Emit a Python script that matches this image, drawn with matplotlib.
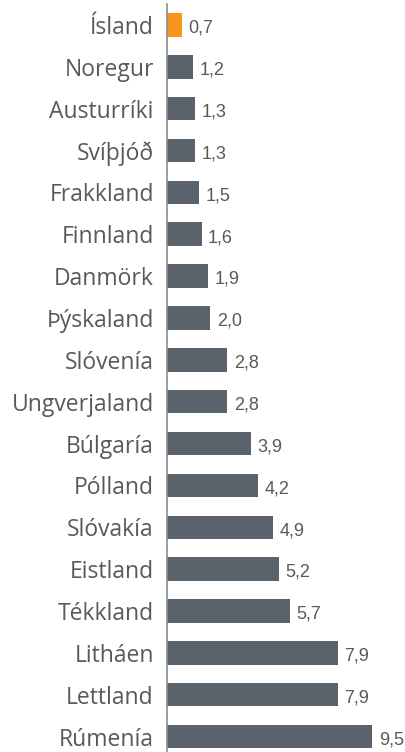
import numpy as np
import matplotlib.pyplot as plt

countries = ["Ísland", "Noregur", "Austurríki", "Svíþjóð", "Frakkland", "Finnland",
             "Danmörk", "Þýskaland", "Slóvenía", "Ungverjaland", "Búlgaría", "Pólland",
             "Slóvakía", "Eistland", "Tékkland", "Litháen", "Lettland", "Rúmenía"]
values = [0.7, 1.2, 1.3, 1.3, 1.5, 1.6, 1.9, 2.0, 2.8, 2.8, 3.9, 4.2, 4.9, 5.2, 5.7, 7.9, 7.9, 9.5]
highlight = "Ísland"

fig = plt.figure(figsize=(4.05, 7.52), dpi=100)
ax = fig.add_axes([167/405, 0, 233/405, 1 - 4/752])

y = np.arange(len(countries))
colors = ["#f7941d" if c == highlight else "#5a636b" for c in countries]
ax.barh(y, values, height=0.56, color=colors, zorder=2)

for yi, v in zip(y, values):
    ax.text(v + 0.3, yi + 0.08, ("%.1f" % v).replace(".", ","), va="center", ha="left",
            fontsize=13, color="#595959", family=["Liberation Sans", "DejaVu Sans"])

ax.set_yticks(y)
ax.set_yticklabels(countries, fontsize=16.5, color="#595959", family=["Open Sans", "DejaVu Sans"])
ax.tick_params(axis="y", length=0, pad=9.5)
ax.set_xticks([])
ax.set_xlim(0, 233/21.6)
ax.set_ylim(17.37, -0.5)

for s in ["top", "right", "bottom"]:
    ax.spines[s].set_visible(False)
ax.spines["left"].set_color("#8c8c8c")
ax.spines["left"].set_linewidth(1.2)

plt.savefig("out.png", dpi=100)
